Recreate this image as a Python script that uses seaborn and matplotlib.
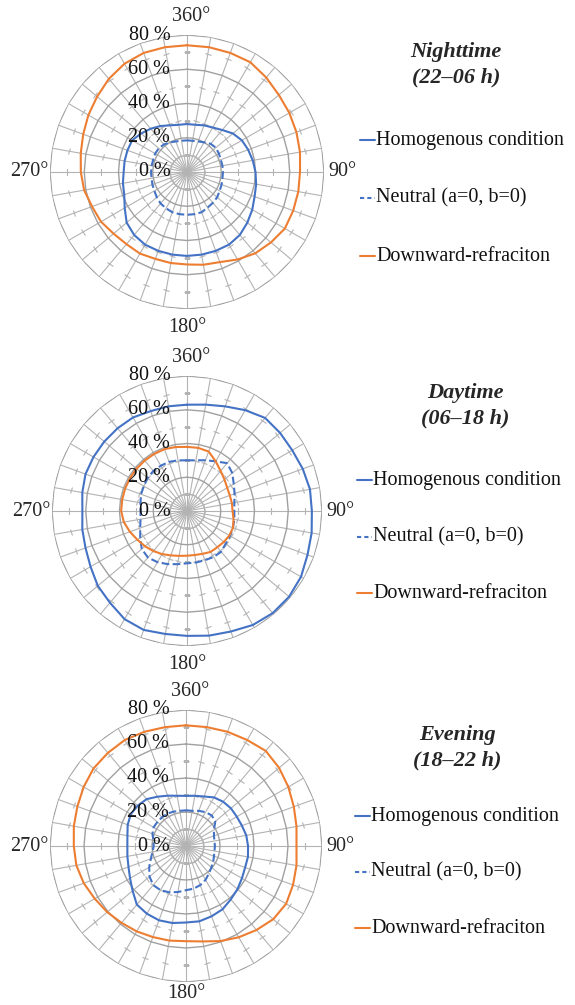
import numpy as np
import pandas as pd
import matplotlib
matplotlib.use('Agg')
import matplotlib.pyplot as plt
from matplotlib.markers import MarkerStyle
from matplotlib.transforms import Affine2D
import seaborn as sns

# wind direction categories (degrees, clockwise from north)
angles = list(range(0, 360, 10))

# Nighttime (22-06 h)
night_homog = [28, 28, 29, 30, 32, 35, 37, 38, 39, 40, 41, 42, 44, 46, 48, 49, 49, 49,
               49, 49, 49, 49, 48, 46, 42, 39, 38, 37, 37, 37, 37, 35, 33, 31, 29, 28]
night_neutral = [18.5, 18.5, 19, 20, 21.5, 22, 21.5, 21, 21, 21, 21, 21.5, 22, 23, 23.5, 24, 25, 25,
                 25, 25, 25, 24.5, 24, 23, 22, 21.5, 21, 21, 21, 21, 21.5, 21.5, 21, 20, 19, 18.5]
night_down = [74, 74, 74, 74, 72, 70, 69, 68, 67, 66, 66, 66, 66, 64, 62, 59, 56, 55,
              54, 54, 54, 55, 55, 56, 58, 59, 61, 62, 63, 64.5, 66.5, 68.5, 71, 73, 74, 74]

# Daytime (06-18 h)
day_homog = [63, 64, 66, 69, 72, 72, 72, 73, 74, 74, 75, 76, 78, 79, 79, 78, 76, 75,
             74, 74, 75, 74, 71, 69, 66, 64, 63, 62, 63, 64, 64, 64, 64, 64, 63, 63]
day_neutral = [30, 30.5, 32, 34, 37, 35, 32, 30, 28.5, 28, 28.5, 29, 29.5, 30, 31.5, 31.5, 31, 31,
               31, 32, 33.5, 35, 36, 35, 32, 29.5, 28, 27.5, 28, 29, 29.5, 30.5, 31, 31, 31, 30.5]
day_down = [38, 38, 37.5, 34, 31, 29, 27.5, 27, 27, 27, 28, 29, 29, 28.5, 28, 28, 27, 26.5,
            26.5, 27, 28, 29.5, 31, 32.5, 34, 36, 38, 39, 39, 39, 39, 39, 39, 39, 39, 38.5]

# Evening (18-22 h)
eve_homog = [29.5, 30, 31, 33, 34, 34.5, 34.5, 35, 36, 36.5, 37, 37, 38, 39.5, 41, 43, 44, 45,
             45, 46, 46.5, 46, 45, 41, 38, 36, 35, 34.5, 35, 36.5, 37.5, 37, 36, 33.5, 31.5, 30]
eve_neutral = [21, 21, 22, 23, 23.5, 22.5, 19, 17.5, 17, 17, 17, 17.5, 18.5, 19.5, 21, 23, 24.5, 25.5,
               26, 27.5, 29, 30, 30, 28, 25, 22, 20, 19, 19.5, 21, 22, 22, 22, 22, 21.5, 21]
eve_down = [71, 71, 71.5, 72, 73, 71.5, 69.5, 67.5, 66, 65, 66, 67, 68, 67, 64.5, 62, 59.5, 57,
            56, 56.5, 57, 58, 59, 60.5, 62, 64, 65.5, 66, 67, 68, 69.5, 71, 71.5, 72, 71.5, 71]

titles = ['Nighttime\n(22–06 h)', 'Daytime\n(06–18 h)', 'Evening\n(18–22 h)']
series_names = ['Homogenous condition', 'Neutral (a=0, b=0)', 'Downward-refraciton']
ring_values = [0, 20, 40, 60, 80]
ring_labels = ['0 %', '20 %', '40 %', '60 %', '80 %']

panels = [
    dict(data=[night_homog, night_neutral, night_down], c=(187, 172), R=137, bottom_off=13,
         title_y=(52, 77), title_x=456, leg_y=(140, 198, 256), leg_x=360),
    dict(data=[day_homog, day_neutral, day_down], c=(187, 511), R=135, bottom_off=13,
         title_y=(393, 418), title_x=465, leg_y=(480, 537, 593), leg_x=357),
    dict(data=[eve_homog, eve_neutral, eve_down], c=(186, 846), R=136, bottom_off=8.5,
         title_y=(735, 760), title_x=457, leg_y=(816, 872, 928), leg_x=355),
]

BLUE = '#4472C4'
ORANGE = '#ED7D31'
colors = [BLUE, BLUE, ORANGE]
styles = ['-', '--', '-']

sns.set_style('white')
plt.rcParams['font.family'] = ['Liberation Serif', 'DejaVu Serif']

W, H = 575, 1005
fig = plt.figure(figsize=(W / 100, H / 100), dpi=100)

# overlay in pixel coordinates for titles and legends
ov = fig.add_axes([0, 0, 1, 1])
ov.set_xlim(0, W)
ov.set_ylim(H, 0)
ov.axis('off')

theta = np.deg2rad(angles)
theta_closed = np.append(theta, 2 * np.pi)

for i, p in enumerate(panels):
    cx, cy = p['c']
    R = p['R']
    ax = fig.add_axes([(cx - R) / W, (H - cy - R) / H, 2 * R / W, 2 * R / H], projection='polar')
    ax.set_theta_zero_location('N')
    ax.set_theta_direction(-1)
    ax.set_ylim(0, 80)
    ax.set_xticks([])
    ax.set_yticks([])
    ax.grid(False)
    ax.spines['polar'].set_visible(False)
    ax.set_facecolor('none')

    # spokes with small cross ticks
    for a, t in zip(angles, theta):
        ax.plot([t, t], [0, 80], color='#b3b3b3', lw=0.8, zorder=1)
        tick = MarkerStyle('_', transform=Affine2D().rotate_deg(-a))
        ax.plot([t] * 4, [10, 30, 50, 70], ls='none', marker=tick,
                ms=5, mec='#b3b3b3', mew=0.8, zorder=1)
    # polygon rings
    for rv in ring_values[1:]:
        ax.plot(theta_closed, [rv] * len(theta_closed), color='#a0a0a0', lw=1.0, zorder=1)

    # data lines
    for vals, col, ls in zip(p['data'], colors, styles):
        df = pd.DataFrame({'theta': theta_closed, 'value': vals + [vals[0]]})
        line_kw = dict(dashes=(3, 2)) if ls == '--' else {}
        sns.lineplot(data=df, x='theta', y='value', ax=ax, color=col, lw=1.5,
                     linestyle=ls, legend=False, zorder=3, **line_kw)
    ax.set_xlabel('')
    ax.set_ylabel('')
    ax.set_ylim(0, 80)

    # radial labels
    for rv, lab in zip(ring_values, ring_labels):
        ax.annotate(lab, xy=(0, rv), xytext=(-12, 0), textcoords='offset points',
                    ha='right', va='center', fontsize=14.5, color='#111111', zorder=4)
    # direction labels
    ax.annotate('360°', xy=(0, 80), xytext=(3, 13), textcoords='offset points',
                ha='center', va='center', fontsize=14.5, annotation_clip=False)
    ax.annotate('180°', xy=(np.pi, 80), xytext=(0, -p['bottom_off']), textcoords='offset points',
                ha='center', va='center', fontsize=14.5, annotation_clip=False)
    ax.annotate('270°', xy=(1.5 * np.pi, 80), xytext=(-1, 0), textcoords='offset points',
                ha='right', va='center', fontsize=14.5, annotation_clip=False)
    ax.annotate('90°', xy=(0.5 * np.pi, 80), xytext=(3, 0), textcoords='offset points',
                ha='left', va='center', fontsize=14.5, annotation_clip=False)

    # title
    t1, t2 = titles[i].split('\n')
    ov.text(p['title_x'], p['title_y'][0], t1, ha='center', va='center',
            fontsize=16, fontweight='bold', fontstyle='italic')
    ov.text(p['title_x'], p['title_y'][1], t2, ha='center', va='center',
            fontsize=16, fontweight='bold', fontstyle='italic')

    # legend
    lx = p['leg_x']
    for name, col, ls, ly in zip(series_names, colors, styles, p['leg_y']):
        kw = dict(dashes=(2, 1.5)) if ls == '--' else {}
        ov.plot([lx, lx + 15], [ly, ly], color=col, lw=1.5, linestyle=ls, **kw)
        ov.text(lx + 16, ly, name, ha='left', va='center', fontsize=14.5, color='#111111')

fig.savefig('out.png', dpi=100, facecolor='white')
